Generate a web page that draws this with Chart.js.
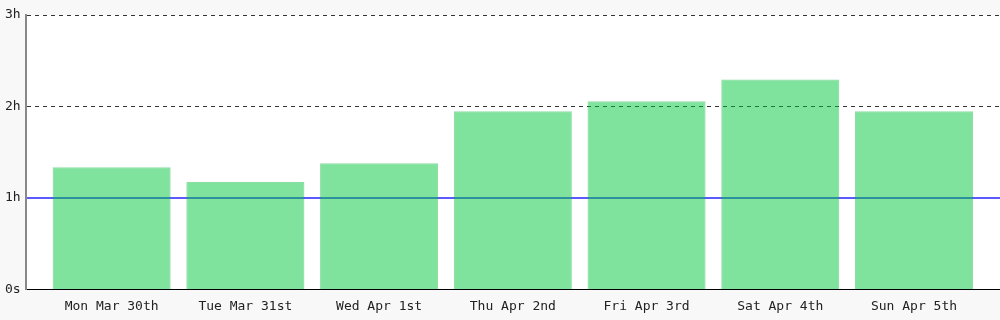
<!DOCTYPE html>
<html>
<head>
<meta charset="utf-8">
<script src="https://cdn.jsdelivr.net/npm/chart.js@4/dist/chart.umd.min.js"></script>
<style>
    html, body { margin: 0; padding: 0; background: #f8f8f8; }
    #wrap { width: 1000px; height: 320px; }
</style>
</head>
<body>
<div id="wrap"><canvas id="timeChart"></canvas></div>
<script>
const days = ['Mon Mar 30th', 'Tue Mar 31st', 'Wed Apr 1st', 'Thu Apr 2nd', 'Fri Apr 3rd', 'Sat Apr 4th', 'Sun Apr 5th'];
const hoursPerDay = [1.336, 1.173, 1.38, 1.947, 2.056, 2.296, 1.947];
const yTicks = [0, 1, 2, 3];
const yTickLabels = ['0s', '1h', '2h', '3h'];

document.addEventListener('DOMContentLoaded', (event) => {
    // white plot area on the grey page
    const plotBackground = {
        id: 'plotBackground',
        beforeDraw(chart) {
            const a = chart.chartArea;
            const ctx = chart.ctx;
            ctx.save();
            ctx.fillStyle = '#ffffff';
            ctx.fillRect(a.left, a.top, a.right - a.left, a.bottom - a.top);
            ctx.restore();
        }
    };

    const points = days.map((d, i) => ({ x: i, y: hoursPerDay[i] }));
    const monoFont = { family: "'DejaVu Sans Mono', monospace", size: 13 };

    function tickValue(c) {
        if (c.tick && c.tick.value !== undefined) return c.tick.value;
        return yTicks[c.index];
    }

    var ctx = document.getElementById('timeChart').getContext('2d');
    var chart = new Chart(ctx, {
        type: 'bar',
        data: {
            datasets: [{
                data: points,
                backgroundColor: 'rgba(0, 200, 60, 0.5)',
                borderColor: 'rgba(0, 180, 50, 0.45)',
                borderWidth: 1,
                categoryPercentage: 1,
                barPercentage: 0.883
            }]
        },
        options: {
            responsive: true,
            maintainAspectRatio: false,
            animation: false,
            layout: { padding: { top: 15, right: 0, left: 0, bottom: -3 } },
            plugins: {
                legend: { display: false },
                tooltip: { enabled: false }
            },
            scales: {
                x: {
                    type: 'linear',
                    offset: false,
                    min: -0.643,
                    max: days.length - 1 + 0.643,
                    grid: { display: false, drawTicks: false },
                    border: { display: true, color: '#000000', width: 1 },
                    ticks: {
                        stepSize: 1,
                        includeBounds: false,
                        autoSkip: false,
                        maxRotation: 0,
                        padding: 9,
                        color: '#222',
                        font: monoFont,
                        callback: function (value) {
                            return days[value] !== undefined ? days[value] : '';
                        }
                    }
                },
                y: {
                    min: 0,
                    max: 3,
                    afterBuildTicks: function (axis) {
                        axis.ticks = yTicks.map(v => ({ value: v }));
                    },
                    grid: {
                        drawTicks: false,
                        lineWidth: function (c) {
                            return tickValue(c) === 1 ? 2 : 1;
                        },
                        color: function (c) {
                            const v = tickValue(c);
                            if (v === 1) return '#5a5aff';
                            if (v === 0) return 'rgba(0,0,0,0)';
                            return '#333333';
                        }
                    },
                    border: {
                        display: true,
                        color: '#888888',
                        width: 2,
                        dash: function (c) {
                            const v = tickValue(c);
                            return (v === 2 || v === 3) ? [4, 4] : [];
                        }
                    },
                    ticks: {
                        padding: 5,
                        color: '#222',
                        font: monoFont,
                        callback: function (value) {
                            const i = yTicks.indexOf(value);
                            return i >= 0 ? yTickLabels[i] : '';
                        }
                    }
                }
            }
        },
        plugins: [plotBackground]
    });
});
</script>
</body>
</html>
